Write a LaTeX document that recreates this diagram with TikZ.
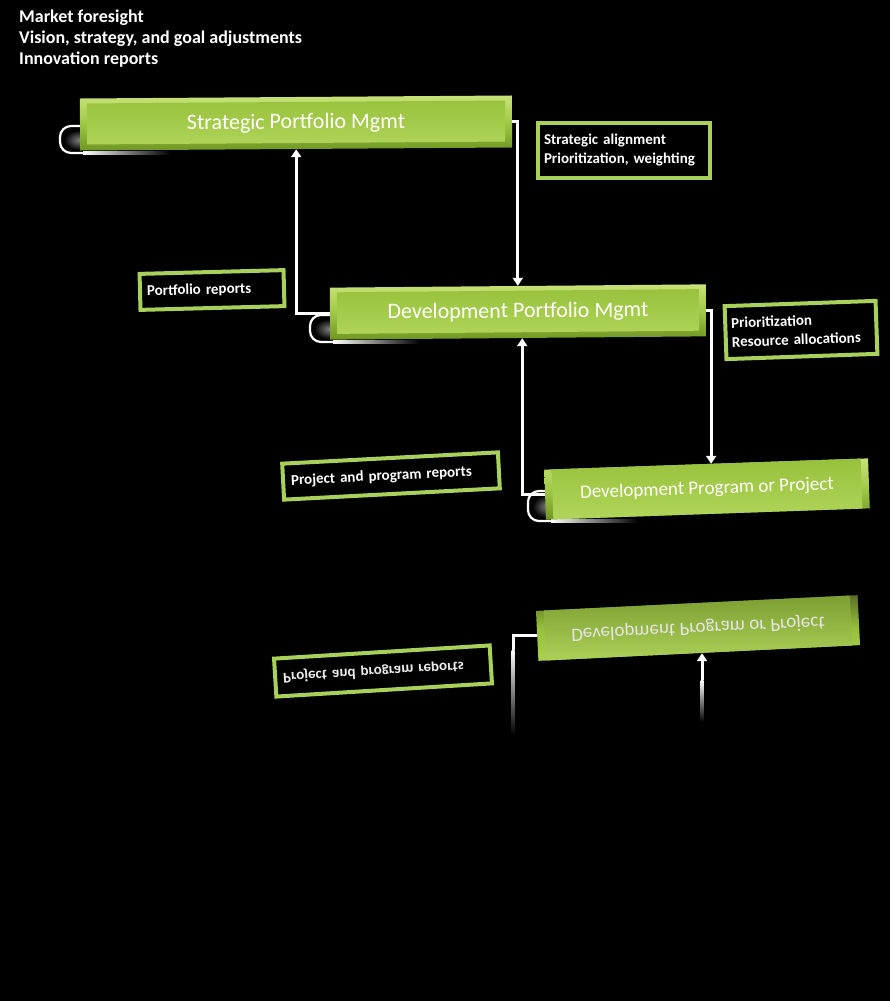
\documentclass[tikz,border=0pt]{standalone}
\usepackage{fontspec}
\usepackage{graphicx}
\setmainfont{Carlito}
\usetikzlibrary{arrows.meta,calc}
\definecolor{gtop}{RGB}{200,226,120}
\definecolor{gmid}{RGB}{160,200,70}
\definecolor{gbot}{RGB}{110,150,35}
\definecolor{gface1}{RGB}{150,192,58}
\definecolor{gface2}{RGB}{178,214,92}
\definecolor{gline}{RGB}{168,208,90}
\definecolor{rtop}{RGB}{90,110,40}
\definecolor{rbot}{RGB}{170,210,80}
\tikzset{
  mainbox/.style={minimum height=52pt, inner sep=0pt, text=white,
    top color=gtop, bottom color=gbot, middle color=gmid,
    font=\fontsize{22}{24}\selectfont,
    path picture={\shade[top color=gface1,bottom color=gface2]
      ([xshift=7pt,yshift=-8pt]path picture bounding box.north west) rectangle
      ([xshift=-7pt,yshift=9pt]path picture bounding box.south east);}},
  reflbox/.style={minimum height=50pt, inner sep=0pt, text=white!80!gray,
    top color=rtop, bottom color=rbot, middle color=gface1,
    font=\fontsize{19}{22}\selectfont,
    path picture={\shade[top color=gface1!80!black,bottom color=gface2]
      ([xshift=7pt,yshift=-9pt]path picture bounding box.north west) rectangle
      ([xshift=-7pt,yshift=8pt]path picture bounding box.south east);}},
  lblbox/.style={draw=gline, line width=4pt, fill=black, text=white,
    font=\bfseries\fontsize{15}{19}\selectfont, align=left,
    inner xsep=6pt, inner ysep=4pt},
  conn/.style={draw=white, line width=3pt,
    -{Triangle[width=10pt,length=8pt]}},
  plain/.style={draw=white, line width=3pt}
}
\newcommand{\glowshadow}[3]{%
  \shade[inner color=black!50, outer color=black] ({#1+4},{#2+4}) rectangle ({#1+34},{#3-3});
  \draw[white!92, line width=2.2pt, rounded corners=11pt] ({#1+22},#2) -- (#1,#2) -- (#1,#3) -- ({#1+24},#3);
  \shade[left color=white!92, right color=black] ({#1+23},{#3-1.1}) rectangle ({#1+110},{#3+1.1});
}
\begin{document}
\begin{tikzpicture}[x=1pt,y=-1pt]
\fill[black] (0,0) rectangle (890,1001);
\useasboundingbox (0,0) rectangle (890,1001);

% top text
\node[anchor=north west, align=left, text=white,
      font=\bfseries\fontsize{18}{21}\selectfont, inner sep=0pt]
  (top) at (19,10) {Market foresight\\Vision, strategy, and goal adjustments\\Innovation reports};

% shadows with glow
\glowshadow{60}{126}{153}
\glowshadow{310}{315}{342}
\glowshadow{528}{491}{521}

% main boxes
\node[mainbox, minimum width=432pt, rotate=0.4] (spm) at (296,123) {Strategic Portfolio Mgmt};
\node[mainbox, minimum width=376pt, rotate=0.5] (dpm) at (518,312) {Development Portfolio Mgmt};
\node[mainbox, minimum width=324pt, minimum height=50pt, rotate=2, font=\fontsize{19}{22}\selectfont] (dprog) at (707,489) {Development Program or Project};

% reflection
\node[reflbox, minimum width=322pt, rotate=2.8] (rprog) at (698,628) {\scalebox{1}[-1]{Development Program or Project}};

% label boxes
\node[lblbox, minimum width=172pt, minimum height=55pt, text width=160pt] (sa) at (624,150)
  {Strategic alignment\\Prioritization, weighting};
\node[lblbox, minimum width=144pt, minimum height=36pt, text width=130pt, rotate=1.5] (pr) at (212,290)
  {Portfolio reports};
\node[lblbox, minimum width=151pt, minimum height=53pt, text width=139pt, rotate=2] (pra) at (801,330)
  {Prioritization\\Resource allocations};
\node[lblbox, minimum width=216pt, minimum height=36pt, text width=200pt, rotate=3] (ppr) at (391,476)
  {Project and program reports};
\node[lblbox, minimum width=216pt, minimum height=38pt, text width=200pt, rotate=3.5, text=white!85!gray] (rppr) at (383,671)
  {\scalebox{1}[-1]{Project and program reports}};

% connectors
\draw[conn] (spm.east) -| (dpm.north);
\draw[conn] (dpm.west) -| (spm.south);
\draw[conn] (dpm.east) -| ($(dprog.north)+(5,0)$);
\draw[conn] (dprog.west) -| ($(dpm.south)+(4,0)$);

% reflected connectors (fading)
\coordinate (rl) at (513,735);
\coordinate (rr) at (702,722);
\draw[plain] (rprog.west) -| (513,650);
\shade[top color=white, bottom color=black] (511.5,650) rectangle (514.5,735);
\draw[conn] (702,680) -- (rprog.south -| rr);
\shade[top color=white, bottom color=black] (700.5,680) rectangle (703.5,722);
\end{tikzpicture}
\end{document}
